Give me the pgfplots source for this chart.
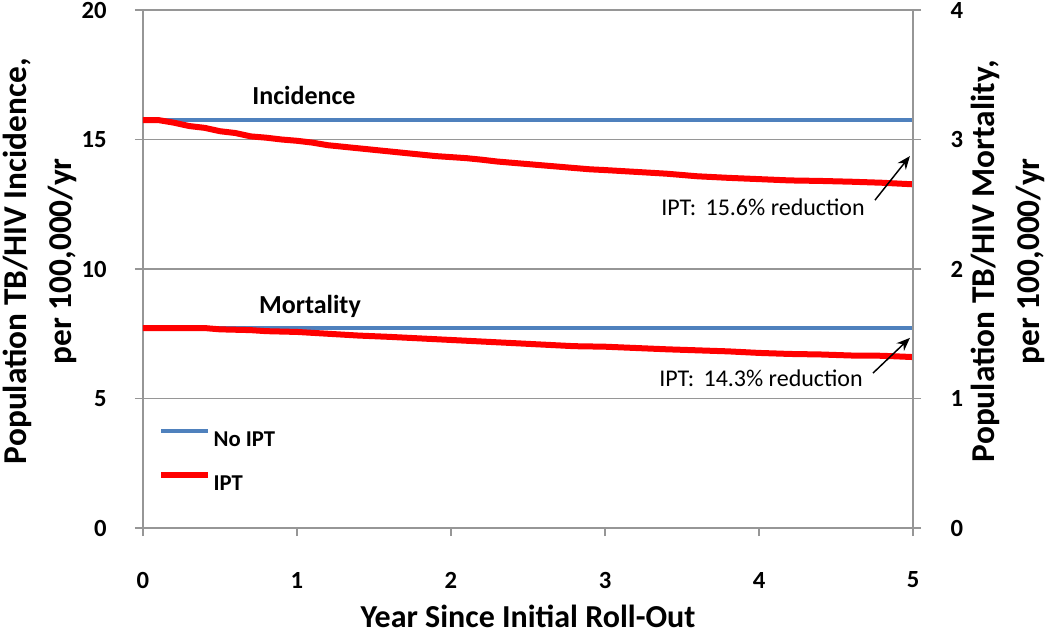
\documentclass[border=0pt]{standalone}
\usepackage{pgfplots}
\pgfplotsset{compat=1.18}
\usetikzlibrary{arrows.meta}
\usepackage{fontspec}
\setmainfont{Carlito}
\definecolor{ipblue}{RGB}{79,129,189}
\definecolor{axgray}{RGB}{150,150,150}
\begin{document}
\begin{tikzpicture}[x=1pt,y=1pt]
\path[use as bounding box] (-107.25pt,-81.75pt) rectangle (680.25pt,396pt);
\begin{axis}[
  at={(0,0)}, anchor=south west,
  scale only axis, width=577.5pt, height=388.5pt,
  xmin=0, xmax=5, ymin=0, ymax=20,
  xtick={0,1,2,3,4,5}, ytick={0,5,10,15,20},
  axis x line*=bottom, axis y line*=left,
  axis line style={axgray, line width=1pt, -},
  tick style={axgray, line width=1pt},
  tick align=outside, major tick length=6pt,
  ymajorgrids, grid style={axgray, line width=1pt},
  /pgf/number format/assume math mode=true,
  ticklabel style={font=\fontsize{18.5}{22}\selectfont\bfseries},
  yticklabel style={anchor=east, inner sep=0pt, xshift=-21pt},
  xticklabel style={anchor=center, inner sep=0pt, yshift=-33pt},
  xlabel={Year Since Initial Roll-Out},
  xlabel style={font=\fontsize{24}{28}\selectfont\bfseries, at={(axis description cs:0.5,0)}, anchor=base, yshift=-74.5pt},
  ylabel={Population TB/HIV Incidence,\\per 100,000/yr},
  ylabel style={font=\fontsize{25}{34}\selectfont\bfseries, align=center, inner sep=0pt, at={(axis description cs:-0.1338,0.515)}, anchor=center},
  legend style={draw=none, fill=none, inner sep=0pt, at={(0.0195,0.191)}, anchor=north west,
    font=\fontsize{17}{20}\selectfont\bfseries, row sep=18.75pt, column sep=2pt,
    nodes={inner sep=0pt, text height=12pt, text depth=0pt}},
  legend cell align=left,
  legend image code/.code={\draw[#1] (0pt,5.5pt) -- (35pt,5.5pt);},
  clip=false,
]
\addplot[ipblue, line width=3pt] coordinates {(0,15.75) (5,15.75)};
\addlegendentry{No IPT}
\addplot[red, line width=4.5pt, line join=round] coordinates {
(0,15.75) (0.1,15.75) (0.2,15.65) (0.3,15.52) (0.4,15.45) (0.5,15.32) (0.6,15.25)
(0.7,15.12) (0.8,15.07) (0.9,15.0) (1.0,14.95) (1.1,14.88) (1.2,14.78) (1.3,14.72)
(1.4,14.66) (1.5,14.6) (1.6,14.54) (1.7,14.48) (1.8,14.42) (1.9,14.36) (2.0,14.32)
(2.1,14.28) (2.2,14.22) (2.3,14.15) (2.4,14.1) (2.5,14.05) (2.6,14.0) (2.7,13.95)
(2.8,13.9) (2.9,13.85) (3.0,13.82) (3.2,13.75) (3.4,13.68) (3.6,13.58) (3.8,13.52)
(4.0,13.47) (4.2,13.42) (4.4,13.4) (4.6,13.37) (4.8,13.33) (5.0,13.27)};
\addlegendentry{IPT}
\addplot[ipblue, line width=3pt, forget plot] coordinates {(0,7.72) (5,7.72)};
\addplot[red, line width=4.5pt, line join=round, forget plot] coordinates {
(0,7.72) (0.4,7.72) (0.5,7.67) (0.7,7.64) (0.8,7.6) (1.0,7.57) (1.2,7.5) (1.4,7.43)
(1.6,7.38) (1.8,7.32) (2.0,7.26) (2.2,7.2) (2.4,7.14) (2.6,7.08) (2.8,7.02) (3.0,7.0)
(3.2,6.95) (3.4,6.9) (3.6,6.86) (3.8,6.82) (4.0,6.76) (4.2,6.72) (4.4,6.7) (4.6,6.66)
(4.8,6.65) (5.0,6.6)};
\node[font=\fontsize{19.5}{22}\selectfont\bfseries, anchor=base] at (axis cs:1.045,16.37) {Incidence};
\node[font=\fontsize{19.5}{22}\selectfont\bfseries, anchor=base] at (axis cs:1.084,8.30) {Mortality};
\node[font=\fontsize{18}{21}\selectfont, anchor=base] at (axis cs:4.026,12.08) {IPT:\, 15.6\% reduction};
\node[font=\fontsize{18}{21}\selectfont, anchor=base] at (axis cs:4.013,5.48) {IPT:\, 14.3\% reduction};
\draw[-{Stealth[length=10pt,width=8pt]}, line width=1.1pt] (axis cs:4.753,12.66) -- (axis cs:4.98,14.36);
\draw[-{Stealth[length=10pt,width=8pt]}, line width=1.1pt] (axis cs:4.74,5.98) -- (axis cs:4.98,7.34);
\end{axis}
\begin{axis}[
  at={(0,0)}, anchor=south west,
  scale only axis, width=577.5pt, height=388.5pt,
  xmin=0, xmax=5, ymin=0, ymax=4,
  ytick={0,1,2,3,4},
  axis x line=none, axis y line*=right,
  axis line style={axgray, line width=1pt, -},
  tick style={axgray, line width=1pt},
  tick align=outside, major tick length=6pt,
  /pgf/number format/assume math mode=true,
  ticklabel style={font=\fontsize{18.5}{22}\selectfont\bfseries},
  yticklabel style={anchor=west, inner sep=0pt, xshift=22pt},
  ylabel={Population TB/HIV Mortality,\\per 100,000/yr},
  ylabel style={font=\fontsize{25}{34}\selectfont\bfseries, align=center, inner sep=0pt, at={(axis description cs:1.1234,0.515)}, anchor=center},
]
\addplot[draw=none] coordinates {(0,0)};
\end{axis}
\end{tikzpicture}
\end{document}
